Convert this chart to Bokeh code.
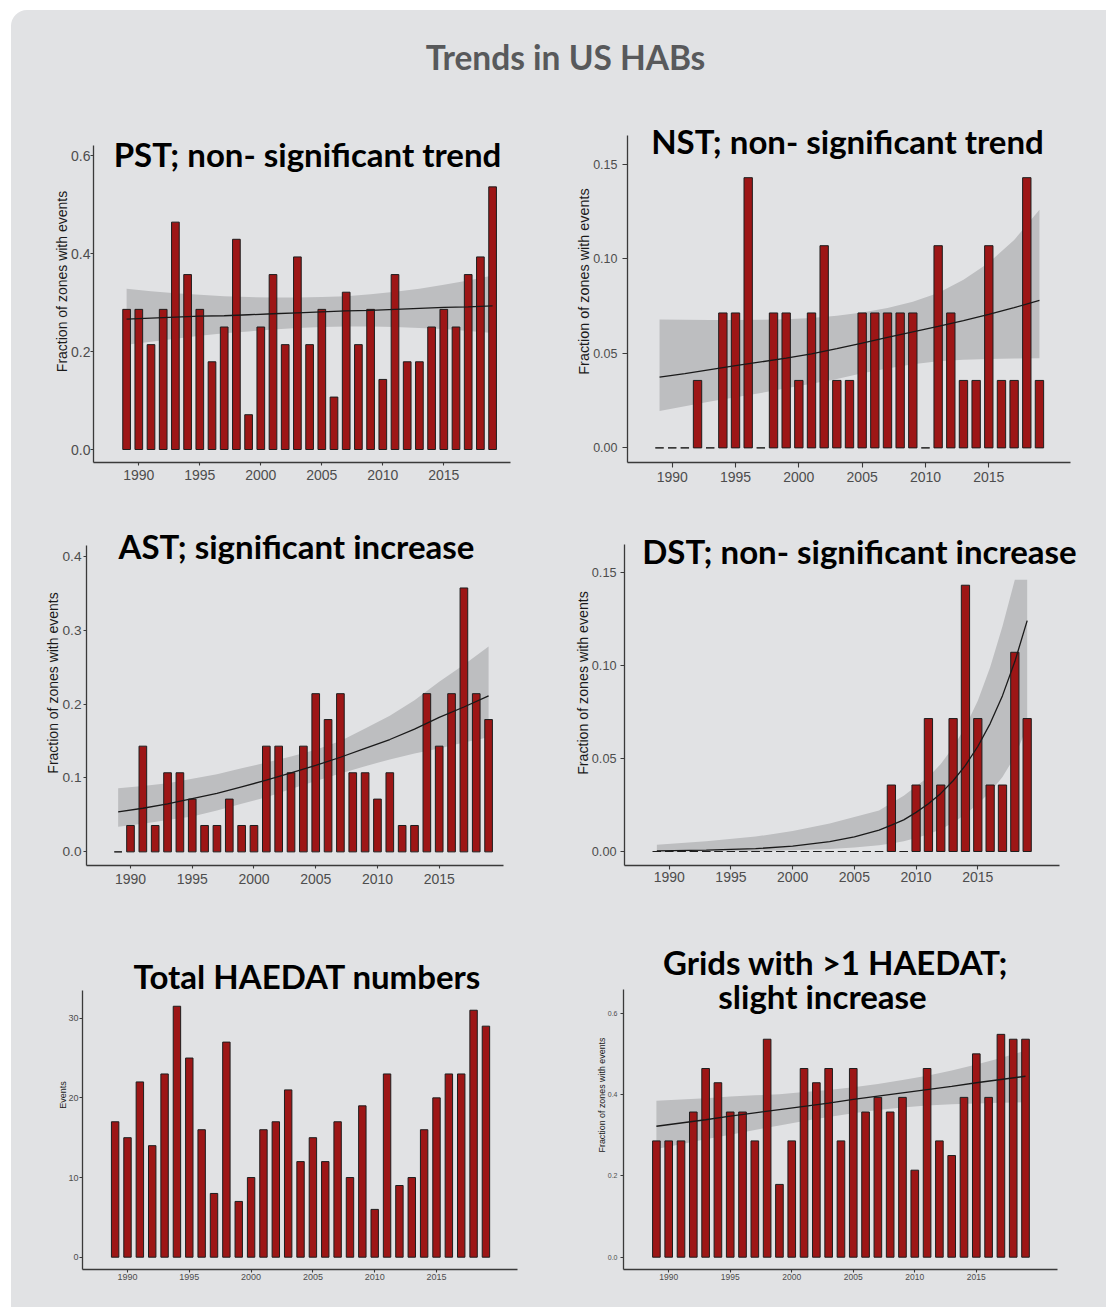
from bokeh.plotting import figure
from bokeh.layouts import column, row
from bokeh.models import Range1d, FixedTicker, Label, NumeralTickFormatter, ColumnDataSource
from bokeh.embed import file_html
from bokeh.resources import INLINE

# ---------------- data ----------------
years = list(range(1989, 2020))
year_ticks = [1990, 1995, 2000, 2005, 2010, 2015]

pst = [0.286, 0.286, 0.214, 0.286, 0.464, 0.357, 0.286, 0.179, 0.25, 0.429, 0.071,
       0.25, 0.357, 0.214, 0.393, 0.214, 0.286, 0.107, 0.321, 0.214, 0.286, 0.143,
       0.357, 0.179, 0.179, 0.25, 0.286, 0.25, 0.357, 0.393, 0.536]
nst = [0, 0, 0, 0.0357, 0, 0.0714, 0.0714, 0.143, 0, 0.0714, 0.0714, 0.0357,
       0.0714, 0.107, 0.0357, 0.0357, 0.0714, 0.0714, 0.0714, 0.0714, 0.0714, 0,
       0.107, 0.0714, 0.0357, 0.0357, 0.107, 0.0357, 0.0357, 0.143, 0.0357]
ast = [0, 0.0357, 0.143, 0.0357, 0.107, 0.107, 0.0714, 0.0357, 0.0357, 0.0714, 0.0357,
       0.0357, 0.143, 0.143, 0.107, 0.143, 0.214, 0.179, 0.214, 0.107, 0.107, 0.0714,
       0.107, 0.0357, 0.0357, 0.214, 0.143, 0.214, 0.357, 0.214, 0.179]
dst = [0, 0, 0, 0, 0, 0, 0, 0, 0, 0, 0, 0, 0, 0, 0, 0, 0, 0, 0,
       0.0357, 0, 0.0357, 0.0714, 0.0357, 0.0714, 0.143, 0.0714, 0.0357, 0.0357, 0.107, 0.0714]
total_events = [17, 15, 22, 14, 23, 31.5, 25, 16, 8, 27, 7, 10, 16, 17, 21, 12, 15, 12,
                17, 10, 19, 6, 23, 9, 10, 16, 20, 23, 23, 31, 29]
grids = [0.286, 0.286, 0.286, 0.357, 0.464, 0.429, 0.357, 0.357, 0.286, 0.536, 0.179,
         0.286, 0.464, 0.429, 0.464, 0.286, 0.464, 0.357, 0.393, 0.357, 0.393, 0.214,
         0.464, 0.286, 0.25, 0.393, 0.5, 0.393, 0.548, 0.536, 0.536]

fit_years = [1989, 1991, 1993, 1995, 1997, 1999, 2001, 2003, 2005, 2007, 2009, 2011,
             2013, 2015, 2017, 2019]
pst_fit = [0.266, 0.268, 0.270, 0.272, 0.273, 0.275, 0.277, 0.279, 0.281, 0.283, 0.284,
           0.286, 0.288, 0.290, 0.291, 0.293]
pst_hi = [0.328, 0.323, 0.319, 0.316, 0.313, 0.311, 0.310, 0.310, 0.311, 0.313, 0.317,
          0.322, 0.328, 0.336, 0.345, 0.355]
pst_lo = [0.214, 0.220, 0.226, 0.232, 0.237, 0.241, 0.245, 0.248, 0.250, 0.251, 0.251,
          0.250, 0.248, 0.246, 0.242, 0.238]

nst_fit = [0.0374, 0.0393, 0.0414, 0.0435, 0.0455, 0.0475, 0.0498, 0.0525, 0.0555, 0.0585,
           0.0614, 0.0643, 0.0674, 0.0707, 0.0742, 0.0780]
nst_hi = [0.0680, 0.0678, 0.0677, 0.0677, 0.0678, 0.0681, 0.0688, 0.0699, 0.0716, 0.0740,
          0.0773, 0.0820, 0.0890, 0.0980, 0.1100, 0.1260]
nst_lo = [0.0195, 0.0220, 0.0245, 0.0268, 0.0290, 0.0315, 0.0340, 0.0365, 0.0395, 0.0420,
          0.0443, 0.0458, 0.0466, 0.0470, 0.0473, 0.0474]

ast_fit = [0.054, 0.059, 0.065, 0.072, 0.079, 0.088, 0.097, 0.107, 0.117, 0.128, 0.140,
           0.152, 0.166, 0.182, 0.196, 0.211]
ast_hi = [0.086, 0.089, 0.093, 0.099, 0.105, 0.113, 0.121, 0.129, 0.138, 0.150, 0.167,
          0.184, 0.205, 0.230, 0.253, 0.278]
ast_lo = [0.034, 0.038, 0.043, 0.048, 0.056, 0.065, 0.074, 0.085, 0.096, 0.106, 0.116,
          0.125, 0.133, 0.140, 0.148, 0.155]

dst_fit_years = [1989, 1993, 1997, 2000, 2003, 2005, 2007, 2008, 2009, 2010, 2011, 2012,
                 2013, 2014, 2015, 2016, 2017, 2018, 2019]
dst_fit = [0.0003, 0.0007, 0.0015, 0.0029, 0.0053, 0.0078, 0.0115, 0.0142, 0.0170, 0.0210,
           0.0256, 0.0312, 0.0380, 0.0463, 0.0564, 0.0687, 0.0837, 0.1020, 0.1240]
dst_hi = [0.0036, 0.0055, 0.0080, 0.0110, 0.0150, 0.0185, 0.0220, 0.0260, 0.0300, 0.0350,
          0.0400, 0.0470, 0.0560, 0.0670, 0.0810, 0.0990, 0.1210, 0.1460, 0.1460]
dst_lo = [0.0000, 0.0001, 0.0003, 0.0007, 0.0013, 0.0021, 0.0033, 0.0043, 0.0055, 0.0072,
          0.0093, 0.0120, 0.0155, 0.0200, 0.0255, 0.0320, 0.0400, 0.0510, 0.0670]

grids_fit = [0.322, 0.330, 0.338, 0.347, 0.355, 0.363, 0.371, 0.379, 0.388, 0.396, 0.404,
             0.412, 0.420, 0.429, 0.437, 0.445]
grids_hi = [0.385, 0.388, 0.391, 0.395, 0.398, 0.401, 0.406, 0.411, 0.418, 0.426, 0.436,
            0.446, 0.459, 0.474, 0.490, 0.508]
grids_lo = [0.266, 0.278, 0.290, 0.301, 0.313, 0.324, 0.335, 0.345, 0.354, 0.362, 0.368,
            0.373, 0.376, 0.378, 0.380, 0.381]

# ---------------- style ----------------
CARD = "#e1e2e4"
BAR_FILL = "#9d1616"
BAR_LINE = "#1e1e1e"
BAND = "#bdbec0"
AXIS = "#3a3a3a"
TICK_TXT = "#4d4d4d"
TITLE_FONT = "Lato"
TICK_FONT = "Liberation Sans"
BASELINE_FIX = 0.36   # Label baseline correction, in em


def panel(origin, size, axes_box, xcal, ycal, yticks, yfmt, ylabel,
          xfs, yfs, lfs, tick_len, ystand, xstand, lstand):
    """axes_box = (left, top, right, bottom) page pixels of the visible axis lines.
    The frame spans to the canvas top/right so overlaid titles are never clipped."""
    ox, oy = origin
    w, h = size
    l, t, r, b = axes_box
    (xv1, xp1), (xv2, xp2) = xcal
    sx = (xp2 - xp1) / (xv2 - xv1)
    x0 = xv1 + (l - xp1) / sx
    x_axis_end = xv1 + (r - xp1) / sx
    x_frame_end = xv1 + (ox + w - xp1) / sx
    (yv1, yp1), (yv2, yp2) = ycal
    sy = (yp1 - yp2) / (yv2 - yv1)
    y0 = yv1 - (b - yp1) / sy
    y_axis_end = yv1 + (yp1 - t) / sy
    y_frame_end = yv1 + (yp1 - oy) / sy
    p = figure(width=w, height=h, title=None,
               x_range=Range1d(x0, x_frame_end), y_range=Range1d(y0, y_frame_end),
               min_border_left=l - ox, min_border_right=0,
               min_border_top=0, min_border_bottom=oy + h - b,
               output_backend="svg", toolbar_location=None,
               background_fill_color=None, border_fill_color=None,
               outline_line_color=None)
    p.xgrid.visible = False
    p.ygrid.visible = False
    for ax in (p.xaxis[0], p.yaxis[0]):
        ax.axis_line_color = AXIS
        ax.axis_line_width = 1.3
        ax.major_tick_line_color = AXIS
        ax.major_tick_line_width = 1.1
        ax.major_tick_out = tick_len
        ax.major_tick_in = 0
        ax.minor_tick_line_color = None
        ax.major_label_text_font = TICK_FONT
        ax.major_label_text_color = TICK_TXT
    p.xaxis.bounds = (x0, x_axis_end)
    p.yaxis.bounds = (y0, y_axis_end)
    p.xaxis.ticker = FixedTicker(ticks=year_ticks)
    p.xaxis.major_label_text_font_size = xfs
    p.xaxis.major_label_standoff = xstand
    p.yaxis.ticker = FixedTicker(ticks=yticks)
    p.yaxis.formatter = NumeralTickFormatter(format=yfmt)
    p.yaxis.major_label_text_font_size = yfs
    p.yaxis.major_label_standoff = ystand
    p.yaxis.axis_label = ylabel
    p.yaxis.axis_label_text_font = TICK_FONT
    p.yaxis.axis_label_text_font_style = "normal"
    p.yaxis.axis_label_text_font_size = lfs
    p.yaxis.axis_label_text_color = "#1a1a1a"
    p.yaxis.axis_label_standoff = lstand

    def conv(px, py):
        return x0 + (px - l) / sx, y_frame_end - (py - oy) / sy

    return p, conv


def add_bars(p, vals, bar_w):
    src = ColumnDataSource(dict(x=years, top=vals))
    p.vbar(x="x", top="top", bottom=0, width=bar_w, source=src,
           fill_color=BAR_FILL, line_color=BAR_LINE, line_width=1)


def add_band(p, xs, lo, hi):
    src = ColumnDataSource(dict(x=xs, lo=lo, hi=hi))
    p.varea(x="x", y1="lo", y2="hi", source=src, fill_color=BAND)


def add_fit(p, xs, fit):
    src = ColumnDataSource(dict(x=xs, y=fit))
    p.line(x="x", y="y", source=src, line_color="#1a1a1a", line_width=1.3)


def add_title(p, conv, text, cx, base_y, size):
    x, y = conv(cx, base_y - BASELINE_FIX * size)
    p.add_layout(Label(x=x, y=y, text=text, text_font=TITLE_FONT, text_font_style="bold",
                       text_font_size=f"{size}px", text_color="#000000", text_align="center",
                       text_baseline="alphabetic"))


TFS = 33
LEFT_X, RIGHT_X = 11, 544
LEFT_W, RIGHT_W = 533, 562
ROW1_Y, ROW2_Y, ROW3_Y = 100, 500, 920
ROW1_H, ROW2_H, ROW3_H = 400, 420, 387

# Row 1
p1, c1 = panel((LEFT_X, ROW1_Y), (LEFT_W, ROW1_H), (93, 145, 510, 462),
               ((1990, 138.3), (2015, 443.3)), ((0, 449), (0.6, 155)),
               [0, 0.2, 0.4, 0.6], "0.0", "Fraction of zones with events",
               "14px", "14px", "14px", 3, 0, 4, -2)
add_band(p1, fit_years, pst_lo, pst_hi)
add_bars(p1, pst, 0.63)
add_fit(p1, fit_years, pst_fit)
add_title(p1, c1, "PST; non- significant trend", 307, 165, TFS)

p2, c2 = panel((RIGHT_X, ROW1_Y), (RIGHT_W, ROW1_H), (627, 135, 1070, 464),
               ((1990, 671.7), (2015, 988.3)), ((0, 449.3), (0.15, 164.3)),
               [0, 0.05, 0.10, 0.15], "0.00", "Fraction of zones with events",
               "14px", "12.5px", "14.4px", 5, 5, 4, -2)
add_band(p2, fit_years, nst_lo, nst_hi)
add_bars(p2, nst, 0.66)
add_fit(p2, fit_years, nst_fit)
add_title(p2, c2, "NST; non- significant trend", 847, 153, TFS)

# Row 2
p3, c3 = panel((LEFT_X, ROW2_Y), (LEFT_W, ROW2_H), (86, 545, 503, 867),
               ((1990, 130), (2015, 438.7)), ((0, 853.3), (0.4, 556)),
               [0, 0.1, 0.2, 0.3, 0.4], "0.0", "Fraction of zones with events",
               "14px", "13.7px", "14px", 3, 2, 5, -2)
add_band(p3, fit_years, ast_lo, ast_hi)
add_bars(p3, ast, 0.62)
add_fit(p3, fit_years, ast_fit)
add_title(p3, c3, "AST; significant increase", 296, 558, TFS)

p4, c4 = panel((RIGHT_X, ROW2_Y), (RIGHT_W, ROW2_H), (624, 544, 1059, 865),
               ((1990, 668.7), (2015, 977.3)), ((0, 851), (0.15, 571.7)),
               [0, 0.05, 0.10, 0.15], "0.00", "Fraction of zones with events",
               "14px", "12.7px", "14.2px", 4, 4, 2, -2)
add_band(p4, dst_fit_years, dst_lo, dst_hi)
add_bars(p4, dst, 0.67)
add_fit(p4, dst_fit_years, dst_fit)
add_title(p4, c4, "DST; non- significant increase", 859, 562, TFS)

# Row 3
p5, c5 = panel((LEFT_X, ROW3_Y), (LEFT_W, ROW3_H), (82, 990, 517, 1269),
               ((1990, 127), (2015, 436)), ((0, 1256.7), (30, 1017.7)),
               [0, 10, 20, 30], "0", "Events",
               "9px", "9px", "9px", 3, 1, 1, -3)
add_bars(p5, total_events, 0.6)
add_title(p5, c5, "Total HAEDAT numbers", 307, 987, TFS)

p6, c6 = panel((RIGHT_X, ROW3_Y), (RIGHT_W, ROW3_H), (623, 989, 1057, 1269),
               ((1990, 668.2), (2015, 975.8)), ((0, 1256.7), (0.6, 1012.7)),
               [0, 0.2, 0.4, 0.6], "0.0", "Fraction of zones with events",
               "8.5px", "7px", "8.9px", 3, 3, 1, -2)
add_band(p6, fit_years, grids_lo, grids_hi)
add_bars(p6, grids, 0.62)
add_fit(p6, fit_years, grids_fit)
add_title(p6, c6, "Grids with >1 HAEDAT;", 835, 973, TFS)
add_title(p6, c6, "slight increase", 822, 1007, TFS)

# Page title
TITLE_H = ROW1_Y - 10
tfig = figure(width=LEFT_W + RIGHT_W, height=TITLE_H, title=None,
              x_range=Range1d(0, LEFT_W + RIGHT_W), y_range=Range1d(0, TITLE_H),
              x_axis_type=None, y_axis_type=None,
              min_border=0, output_backend="svg", toolbar_location=None,
              background_fill_color=None, border_fill_color=None, outline_line_color=None)
tfig.xgrid.visible = False
tfig.ygrid.visible = False
tfig.add_layout(Label(x=565 - LEFT_X, y=TITLE_H - (68.3 - BASELINE_FIX * 33.5 - 10),
                      text="Trends in US HABs",
                      text_font=TITLE_FONT, text_font_style="bold", text_font_size="33.5px",
                      text_color="#58595b", text_align="center", text_baseline="alphabetic"))

layout = column(tfig, row(p1, p2), row(p3, p4), row(p5, p6),
                margin=(10, 0, 0, 11),
                styles={"background-color": CARD, "border-radius": "16px 0 0 0"})

open("out.html", "w").write(file_html(layout, INLINE))
